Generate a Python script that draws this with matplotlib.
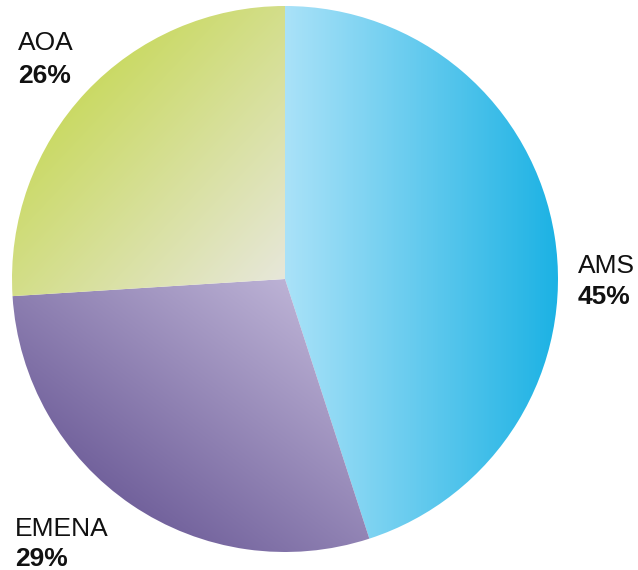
import numpy as np
import matplotlib.pyplot as plt
from matplotlib.colors import to_rgb

# Revenue share by region
regions = ["AMS", "EMENA", "AOA"]
shares = [45, 29, 26]

# Gradient stops per region: (start point, end point, start colour, end colour), in pixel-style coords (y down)
gradients = {
    "AMS": ((285, 279), (558, 279), "#aae2f8", "#1cb2e4"),
    "EMENA": ((285, 279), (100, 520), "#bcb2d5", "#6a5996"),
    "AOA": ((30, 40), (285, 279), "#c2d644", "#e7e7da"),
}

W, H = 638, 570
fig = plt.figure(figsize=(W / 100, H / 100), dpi=100)
ax = fig.add_axes([0, 0, 1, 1])

cx, cy, r = 285, H - 279, 273
wedges, _ = ax.pie(shares, center=(cx, cy), radius=r, startangle=90,
                   counterclock=False, frame=True,
                   wedgeprops=dict(linewidth=0, facecolor="none"))
ax.set_xlim(0, W)
ax.set_ylim(0, H)
ax.set_aspect("equal")
ax.axis("off")

# Fill each wedge with a linear gradient clipped to its shape
n = 600
xs = np.linspace(cx - r, cx + r, n)
ys = np.linspace(cy - r, cy + r, n)
X, Y = np.meshgrid(xs, ys)
for name, wedge in zip(regions, wedges):
    (x0, y0), (x1, y1), c0, c1 = gradients[name]
    y0, y1 = H - y0, H - y1
    dx, dy = x1 - x0, y1 - y0
    t = ((X - x0) * dx + (Y - y0) * dy) / (dx * dx + dy * dy)
    t = np.clip(t, 0, 1)[..., None]
    img = np.array(to_rgb(c0)) * (1 - t) + np.array(to_rgb(c1)) * t
    im = ax.imshow(img, extent=(cx - r, cx + r, cy - r, cy + r),
                   origin="lower", interpolation="bilinear", zorder=1)
    im.set_clip_path(wedge)

# Region labels
font = "Liberation Sans"
labels = [
    ("AMS", "45%", 578, 273, 304),
    ("AOA", "26%", 18, 50, 83),
    ("EMENA", "29%", 15, 536, 566),
]
for name, pct, x, yb1, yb2 in labels:
    ax.text(x, H - yb1, name, fontsize=19, family=font, color="#111111",
            ha="left", va="baseline")
    ax.text(x, H - yb2, pct, fontsize=19, family=font, fontweight="bold",
            color="#111111", ha="left", va="baseline")

fig.savefig("out.png", dpi=100)
